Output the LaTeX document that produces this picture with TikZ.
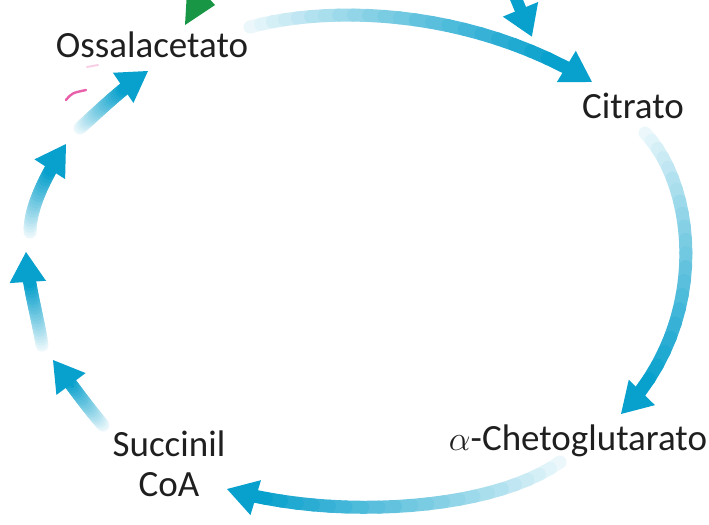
\documentclass[tikz,border=0pt]{standalone}
\usepackage{fontspec}
\setmainfont{Carlito}
\usepackage{tikz}
\usetikzlibrary{arrows.meta, calc}

\definecolor{cycleblue}{RGB}{8,160,204}
\definecolor{cyclegreen}{RGB}{24,150,70}
\definecolor{markpink}{RGB}{232,96,170}

% fading arrow: [shaft end pos] start, control 1, control 2, tip
\newcommand{\fadearrow}[5][0.88]{%
  \foreach \k [evaluate=\k as \p using #1*\k/20] in {0,...,20}
    \path (#2) .. controls (#3) and (#4) .. (#5) coordinate[pos=\p] (f\k);
  \coordinate (fh) at ($(#5)!9pt!(#4)$);
  \coordinate (fb) at ($(#5)!17pt!(#4)$);
  \foreach \k [evaluate=\k as \tint using int(8+92*\k/20), evaluate=\k as \nk using int(\k+1)] in {0,...,19}
    \draw[fadeshaft, cycleblue!\tint!white] (f\k) -- (f\nk);
  \draw[fadeshaft, cycleblue] (f20) -- (fh);
  \draw[tiphead] (fb) -- (#5);
}

\begin{document}
\begin{tikzpicture}[x=0.5pt, y=-0.5pt,
    metab/.style={font=\fontsize{18.5}{20}\selectfont, inner sep=0pt, text=black!88},
    fadeshaft/.style={line width=6.5pt, line cap=round},
    tiphead/.style={cycleblue, line width=1pt, -{Triangle[length=15pt, width=18pt]}}
]
\useasboundingbox (0,0) rectangle (709,525);
\clip (0,0) rectangle (709,525);

% Nodes
\node (oaa) [metab, anchor=base] at (152,57) {Ossalacetato};
\node (cit) [metab, anchor=base] at (633,118) {Citrato};
\node (akg) [metab, anchor=base] at (578,450) {$\alpha$-Chetoglutarato};
\node (scoa) [metab, align=center] at (169,464) {Succinil\\CoA};

% Arrow ends
\coordinate (oaa-out) at (250,27);
\coordinate (cit-in) at (592,82);
\coordinate (cit-out) at (645,133);
\coordinate (akg-in) at (621,414);
\coordinate (akg-out) at (560,462);
\coordinate (scoa-in) at (227,489);
\coordinate (scoa-out) at (103,425);
\coordinate (step1) at (53,360);
\coordinate (step1-out) at (42,345);
\coordinate (step2) at (26,252);
\coordinate (step2-out) at (30,232);
\coordinate (step3) at (66,144);
\coordinate (step3-out) at (80,128);
\coordinate (oaa-in) at (148,71);
\coordinate (acoa-from) at (500,-40);
\coordinate (acoa-to) at (532,37);

% Arrows
\fadearrow{oaa-out}{330,5}{470,8}{cit-in}
\fadearrow{cit-out}{695,185}{712,320}{akg-in}
\fadearrow{akg-out}{490,512}{330,520}{scoa-in}
\fadearrow[0.7]{scoa-out}{88,408}{68,380}{step1}
\fadearrow[0.7]{step1-out}{38,318}{28,285}{step2}
\fadearrow[0.7]{step2-out}{30,205}{48,172}{step3}
\fadearrow[0.7]{step3-out}{98,112}{120,90}{oaa-in}
\draw [cycleblue, line width=6pt, -{Triangle[length=15pt, width=18pt]}] (acoa-from) -- (acoa-to);

% Fragments
\fill [cyclegreen] (185,25) -- (215,5) -- (188,-25) -- cycle;
\draw [markpink, line width=1.2pt, line cap=round] (66,100) .. controls (72,93) .. (86,90);
\draw [markpink!30, line width=1pt, line cap=round] (87,67) -- (98,65);

\end{tikzpicture}
\end{document}
